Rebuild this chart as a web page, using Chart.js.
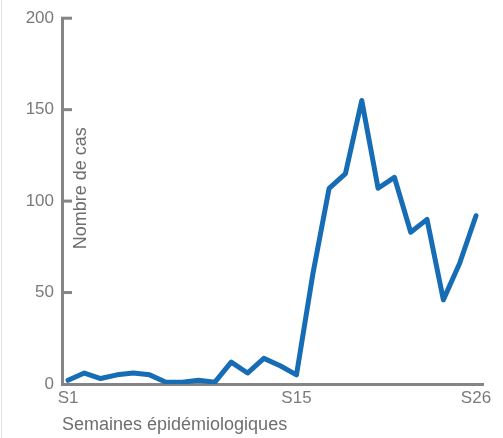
<!DOCTYPE html>
<html>
<head>
<meta charset="utf-8">
<script src="https://cdn.jsdelivr.net/npm/chart.js@4/dist/chart.umd.min.js"></script>
<style>
html,body{margin:0;padding:0;background:#fff;}
#wrap{position:relative;width:503px;height:438px;}
#edge{position:absolute;left:1px;top:0;width:0;height:438px;border-left:1px solid #e4e4e4;}
</style>
</head>
<body>
<div id="wrap"><div id="edge"></div><canvas id="c"></canvas></div>
<script>
const weeks = ['S1','S2','S3','S4','S5','S6','S7','S8','S9','S10','S11','S12','S13','S14','S15','S16','S17','S18','S19','S20','S21','S22','S23','S24','S25','S26'];
const cases = [2,6,3,5,6,5,1,1,2,1,12,6,14,10,5,60,107,115,155,107,113,83,90,46,66,92];
const shownWeekTicks = ['S1','S15','S26'];
const yTicks = [0,50,100,150,200];
const yTitle = 'Nombre de cas';
const xTitle = 'Semaines épidémiologiques';

const GREY = '#858585';
const TEXT = '#7a7a7a';
const FONT = '"Liberation Sans", Arial, sans-serif';

const points = weeks.map((w,i)=>({x:i+1, y:cases[i]}));

const innerTicks = {
  id:'innerTicks',
  afterDraw(chart){
    const ctx = chart.ctx, y = chart.scales.y, a = chart.chartArea;
    ctx.save();
    ctx.strokeStyle = GREY; ctx.lineWidth = 3;
    yTicks.forEach(v=>{
      if (v===0) return;
      const py = y.getPixelForValue(v);
      ctx.beginPath(); ctx.moveTo(a.left-1, py); ctx.lineTo(a.left+10, py); ctx.stroke();
    });
    ctx.fillStyle = '#6e6e6e';
    ctx.font = '18px ' + FONT;
    ctx.textAlign = 'center'; ctx.textBaseline = 'middle';
    ctx.translate(a.left+19, y.getPixelForValue(107));
    ctx.rotate(-Math.PI/2);
    ctx.fillText(yTitle, 0, 0);
    ctx.restore();
  }
};

new Chart(document.getElementById('c'), {
  type:'line',
  data:{datasets:[{
    data:points,
    borderColor:'#176db5',
    borderWidth:5,
    pointRadius:0,
    tension:0,
    borderJoinStyle:'round',
    borderCapStyle:'round'
  }]},
  options:{
    responsive:true,
    maintainAspectRatio:false,
    animation:false,
    layout:{padding:{left:0,right:20,top:15,bottom:0}},
    plugins:{legend:{display:false},tooltip:{enabled:false}},
    scales:{
      x:{
        type:'linear',
        min:0.63, max:26.43,
        afterBuildTicks(s){ s.ticks = shownWeekTicks.map(l=>({value: weeks.indexOf(l)+1})); },
        afterFit(s){ s.height = 54; },
        grid:{display:false, drawTicks:false},
        border:{display:true, color:GREY, width:3},
        ticks:{
          padding:4, color:TEXT, font:{size:17, family:FONT},
          maxRotation:0, autoSkip:false,
          callback:(v)=>weeks[Math.round(v)-1]
        },
        title:{display:true, text:xTitle, align:'start', color:'#6e6e6e',
               font:{size:18, family:FONT}, padding:{top:0,bottom:2}}
      },
      y:{
        min:0, max:200,
        afterBuildTicks(s){ s.ticks = yTicks.map(v=>({value:v})); },
        afterFit(s){ s.width = 62; },
        grid:{display:false, drawTicks:false},
        border:{display:true, color:GREY, width:3},
        ticks:{padding:8, color:TEXT, font:{size:17, family:FONT}}
      }
    }
  },
  plugins:[innerTicks]
});
</script>
</body>
</html>
